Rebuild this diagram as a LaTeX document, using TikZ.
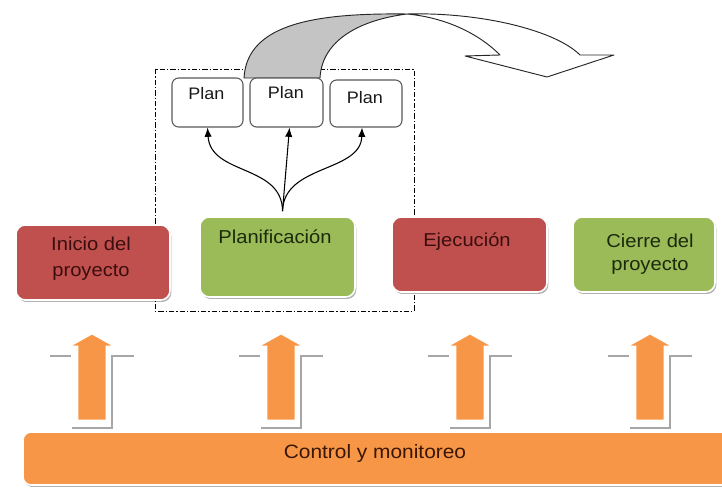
\documentclass[tikz,border=0pt]{standalone}
\usepackage{fontspec}
\setmainfont{Liberation Sans}[FakeStretch=1.08]
\usetikzlibrary{calc,shadows,arrows.meta}
\definecolor{redbox}{HTML}{C0504D}
\definecolor{greenbox}{HTML}{9BBB59}
\definecolor{orangebar}{HTML}{F79646}
\definecolor{redtext}{HTML}{3A0E0E}
\definecolor{greentext}{HTML}{1C2A0C}
\definecolor{bartext}{HTML}{3A1604}
\definecolor{ribbon}{HTML}{C4C4C4}
\tikzset{
  phase/.style={rectangle, rounded corners=7pt, draw=white, line width=1.2pt, inner sep=0pt,
    drop shadow={shadow xshift=1pt, shadow yshift=-1.5pt, opacity=0.3, fill=black}},
  planbox/.style={rectangle, rounded corners=5pt, draw=black!65, line width=0.8pt, fill=white, inner sep=0pt},
  phasetext/.style={anchor=north, inner sep=0pt, align=center, font=\fontsize{14}{18.5}\selectfont},
  plantext/.style={anchor=north, inner sep=0pt, font=\fontsize{12.5}{15}\selectfont, text=black!90},
  frame/.style={draw=black, line width=0.6pt, dash pattern=on 4pt off 1.5pt on 1pt off 1.5pt},
  conn/.style={-{Latex[length=7pt,width=5.5pt]}, line width=0.8pt, black},
  ribbonline/.style={draw=black!85, line width=0.7pt, line join=round},
  upshadow/.style={draw=black!35, line width=1.3pt},
  uparrow/.style={fill=orangebar, draw=white, line width=2pt, line join=miter}
}
\begin{document}
\begin{tikzpicture}[x=0.75pt,y=-0.75pt]
\useasboundingbox (0,0) rectangle (722,491);
\clip (0,0) rectangle (722,491);

% dashed frame around planning
\draw[frame] (155,69) rectangle (414,311);

% big curved arrow
\filldraw[ribbonline, fill=ribbon] (244,78) .. controls (247,22) and (320,13) .. (407,14)
   .. controls (360,20) and (322,40) .. (320,78) -- cycle;
\filldraw[ribbonline, fill=white] (407,14) .. controls (480,12) and (555,30) .. (580,55)
   -- (614,55) -- (547,77) -- (465,56) -- (500,55)
   .. controls (475,30) and (440,17) .. (407,14) -- cycle;

% plan boxes
\node[planbox, minimum width=53.25pt, minimum height=36.75pt] (p1) at (207.5,102.5) {};
\node[planbox, minimum width=54.75pt, minimum height=36.75pt] (p2) at (286.5,102.5) {};
\node[planbox, minimum width=54pt, minimum height=35.25pt] (p3) at (366,103.5) {};
\node[plantext] at ($(p1.north)+(-1,10)$) {Plan};
\node[plantext] at ($(p2.north)+(-0.5,9)$) {Plan};
\node[plantext] at ($(p3.north)+(-1,12)$) {Plan};

% phase boxes
\node[phase, fill=redbox, minimum width=115.5pt, minimum height=56.25pt] (ini) at (93,262.5) {};
\node[phase, fill=greenbox, minimum width=116.25pt, minimum height=60pt] (pl) at (277.5,257) {};
\node[phase, fill=redbox, minimum width=116.25pt, minimum height=56.25pt] (eje) at (469.5,254.5) {};
\node[phase, fill=greenbox, minimum width=106.5pt, minimum height=56.25pt] (cie) at (644,254.5) {};

\node[phasetext, text=redtext, font=\fontsize{14}{19}\selectfont] at ($(ini.north)+(-2,13)$) {Inicio del\\proyecto};
\node[phasetext, text=greentext] at ($(pl.north)+(-2.5,13)$) {Planificación};
\node[phasetext, text=redtext] at ($(eje.north)+(-2.5,16)$) {Ejecución};
\node[phasetext, text=greentext, font=\fontsize{14}{17}\selectfont] at ($(cie.north)+(6,18)$) {Cierre del\\proyecto};

% connectors from planning to plans
\coordinate (src) at ($(pl.north)+(5,-5)$);
\draw[conn] (src) .. controls ($(src)+(0,-47)$) and ($(p1.south)+(3,48)$) .. (p1.south);
\draw[conn] (src) -- ($(p2.south)+(3,0)$);
\draw[conn] (src) .. controls ($(src)+(1,-47)$) and ($(p3.south)+(-5,45)$) .. ($(p3.south)+(-4,0)$);

% control bar
\node[phase, fill=orangebar, rounded corners=6pt, minimum width=537.75pt, minimum height=39.75pt] (ctl) at (381.5,458.5) {};
\node[phasetext, text=bartext, font=\fontsize{14.5}{17}\selectfont] at (375,444) {Control y monitoreo};

% upward block arrows
\foreach \c in {92,281,470,650} {
  \draw[upshadow] (\c-42,356) -- (\c-21,356);
  \draw[upshadow] (\c+42,356) -- (\c+20,356) -- (\c+20,428) -- (\c-20,428);
  \filldraw[uparrow] (\c-15,421) -- (\c-15,347) -- (\c-25,347) -- (\c,333)
     -- (\c+25,347) -- (\c+15,347) -- (\c+15,421) -- cycle;
}
\end{tikzpicture}
\end{document}
